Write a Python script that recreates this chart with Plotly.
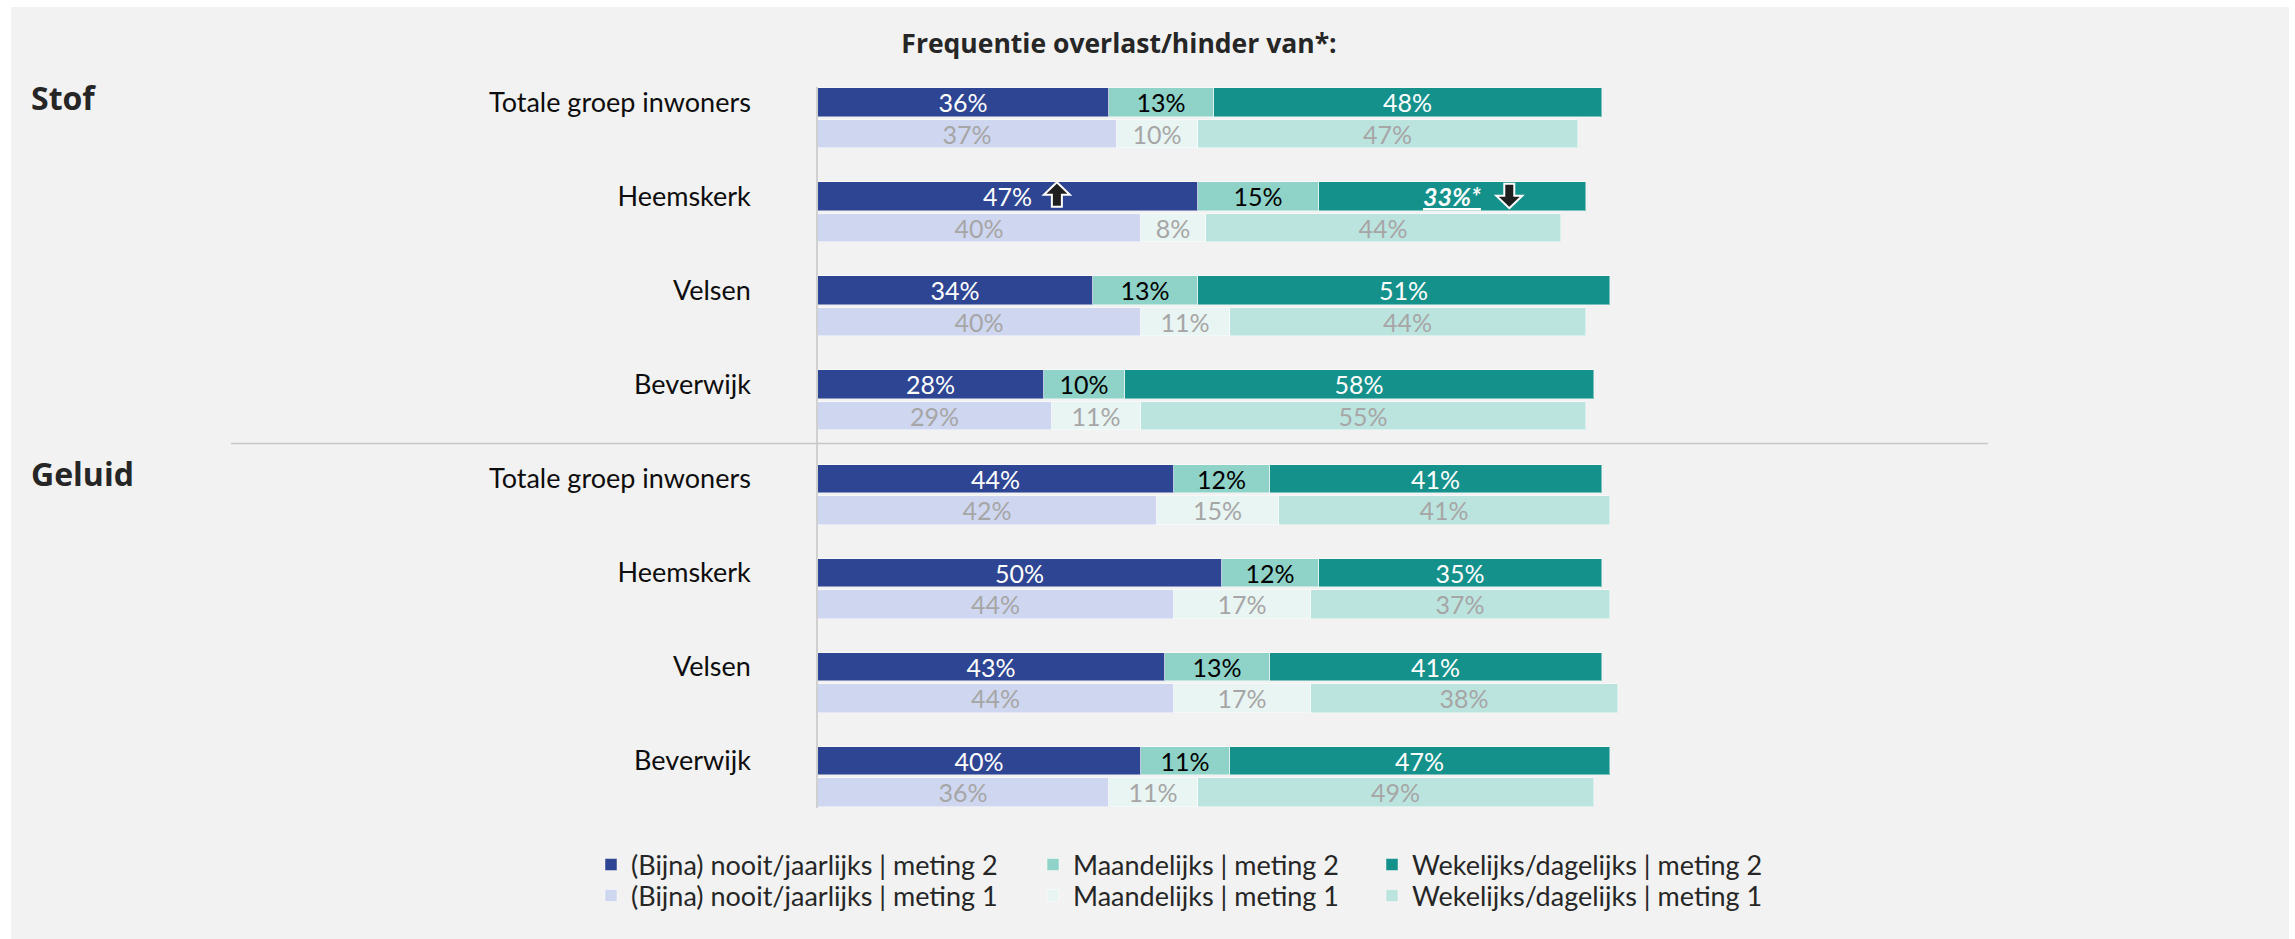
import plotly.graph_objects as go

# ---------------- data ----------------
sections = ["Stof", "Geluid"]
groups = ["Totale groep inwoners", "Heemskerk", "Velsen", "Beverwijk"]
categories = ["(Bijna) nooit/jaarlijks", "Maandelijks", "Wekelijks/dagelijks"]

# values per group: [nooit/jaarlijks, maandelijks, wekelijks/dagelijks]
stof_meting2 = [[36, 13, 48], [47, 15, 33], [34, 13, 51], [28, 10, 58]]
stof_meting1 = [[37, 10, 47], [40, 8, 44], [40, 11, 44], [29, 11, 55]]
geluid_meting2 = [[44, 12, 41], [50, 12, 35], [43, 13, 41], [40, 11, 47]]
geluid_meting1 = [[42, 15, 41], [44, 17, 37], [44, 17, 38], [36, 11, 49]]

# significant changes vs meting 1: (section, group, category index, direction)
significance = [("Stof", "Heemskerk", 0, "up"), ("Stof", "Heemskerk", 2, "down")]
# labels shown emphasised (bold/italic/underlined with asterisk)
emphasised = [("Stof", "Heemskerk", 2)]

title_text = "Frequentie overlast/hinder van*:"

# ---------------- styling ----------------
W, H = 2295, 939
X0_PX, X100_PX = 818, 1626
TOP_PX, BOT_PX = 87, 808
ml, mr, mt, mb = X0_PX, W - X100_PX, TOP_PX, H - BOT_PX
pw, ph = X100_PX - X0_PX, BOT_PX - TOP_PX


def px_x(px):
    return (px - X0_PX) / pw


def px_y(py):
    return (BOT_PX - py) / ph


colors_m2 = ["#2E4593", "#8FD3C8", "#15918C"]
colors_m1 = ["#CFD6EF", "#E9F5F3", "#BCE4DF"]
text_m2 = ["#FFFFFF", "#000000", "#FFFFFF"]
text_m1 = ["#A6A6A6", "#A6A6A6", "#A6A6A6"]
LABEL_FONT = "Lato, 'Open Sans', sans-serif"
BOLD_FONT = "'Open Sans', Lato, sans-serif"

meting2 = {"Stof": stof_meting2, "Geluid": geluid_meting2}
meting1 = {"Stof": stof_meting1, "Geluid": geluid_meting1}

# y positions: per group, meting 2 on top, meting 1 just below
keys, y_m2, y_m1 = [], [], []
for si, s in enumerate(sections):
    for gi, g in enumerate(groups):
        k = si * len(groups) + gi
        keys.append((s, g))
        y_m2.append(3 * k)
        y_m1.append(3 * k + 1)

fig = go.Figure()
# one legend box per legend entry: row 1 = meting 2, row 2 = meting 1
legend_ids = {2: ["legend", "legend2", "legend3"], 1: ["legend4", "legend5", "legend6"]}
legend_row_y = {2: 865, 1: 896}
legend_col_x = [591, 1033, 1372]

for meting, data, ys, cols, tcols in [
    (2, meting2, y_m2, colors_m2, text_m2),
    (1, meting1, y_m1, colors_m1, text_m1),
]:
    for ci, cat in enumerate(categories):
        xs, texts = [], []
        for (s, g) in keys:
            v = data[s][groups.index(g)][ci]
            xs.append(v)
            if meting == 2 and (s, g, ci) in emphasised:
                texts.append(f"<u><b><i>{v}%*</i></b></u>")
            else:
                texts.append(f"{v}%")
        fig.add_trace(go.Bar(
            orientation="h", x=xs, y=ys, width=0.915,
            name=f"{cat} | meting {meting}",
            marker=dict(color=cols[ci], line=dict(color="rgba(255,255,255,0.45)", width=1)),
            text=texts, textposition="inside", insidetextanchor="middle",
            textangle=0, constraintext="none",
            insidetextfont=dict(family=LABEL_FONT, size=25, color=tcols[ci]),
            legend=legend_ids[meting][ci], hoverinfo="skip",
        ))

annotations = []
# section headings
for si, s in enumerate(sections):
    annotations.append(dict(
        x=px_x(29), xref="paper", xanchor="left",
        y=y_m2[si * len(groups)], yref="y", yanchor="middle", yshift=5,
        text=f"<b>{s}</b>", showarrow=False,
        font=dict(family=BOLD_FONT, size=32, color="#262626"),
    ))

shapes = [
    # grey panel
    dict(type="rect", xref="paper", yref="paper", layer="below",
         x0=px_x(11), x1=px_x(2289), y0=px_y(940), y1=px_y(7),
         fillcolor="#F2F2F2", line=dict(width=0)),
    # separator between sections
    dict(type="line", xref="paper", yref="paper",
         x0=px_x(231), x1=px_x(1988), y0=px_y(443.5), y1=px_y(443.5),
         line=dict(color="#C8C8C8", width=1.5)),
]


def arrow_path(dx, dy, up=True):
    """Block-arrow icon outline in pixels, offset (dx, dy) from its anchor."""
    s = 1 if up else -1
    pts = [(0, 12.5), (13, 0), (5, 0), (5, -12), (-5, -12), (-5, 0), (-13, 0)]
    return "M" + " L".join(f"{dx + x},{dy + s * y}" for x, y in pts) + " Z"


# significance arrows, anchored to the centre of the relevant segment
for (s, g, ci, d) in significance:
    k = keys.index((s, g))
    row = meting2[s][groups.index(g)]
    centre = sum(row[:ci]) + row[ci] / 2
    shapes.append(dict(
        type="path", xref="x", yref="y", xsizemode="pixel", ysizemode="pixel",
        xanchor=centre, yanchor=y_m2[k],
        path=arrow_path(49 if d == "up" else 57, 2 if d == "up" else 1, d == "up"),
        fillcolor="#1F1F1F", line=dict(color="#FFFFFF", width=2), layer="above",
    ))

legend_layouts = {}
for meting in (2, 1):
    for ci in range(len(categories)):
        legend_layouts[legend_ids[meting][ci]] = dict(
            orientation="v", xanchor="left", yanchor="middle",
            x=px_x(legend_col_x[ci]), y=px_y(legend_row_y[meting]),
            bgcolor="rgba(0,0,0,0)",
            font=dict(family=LABEL_FONT, size=27, color="#262626"),
            itemclick=False, itemdoubleclick=False,
        )

fig.update_layout(
    width=W, height=H, autosize=False,
    margin=dict(l=ml, r=mr, t=mt, b=mb, pad=0),
    paper_bgcolor="#FFFFFF", plot_bgcolor="rgba(0,0,0,0)",
    barmode="stack", bargap=0,
    title=dict(text=f"<b>{title_text}</b>", x=1119 / W, xanchor="center",
               y=1 - 44 / H, yanchor="middle",
               font=dict(family=BOLD_FONT, size=26.5, color="#262626")),
    xaxis=dict(range=[0, 100], visible=False, fixedrange=True),
    yaxis=dict(range=[22.5, -0.5], tickmode="array", tickvals=y_m2,
               ticktext=[g for (s, g) in keys], showline=True, linecolor="#D0D0D0",
               linewidth=1.5, showgrid=False, zeroline=False, ticks="",
               ticklabelstandoff=60, fixedrange=True,
               tickfont=dict(family=LABEL_FONT, size=27, color="#0D0D0D")),
    annotations=annotations, shapes=shapes,
    showlegend=True,
    **legend_layouts,
)

fig.write_html("out.html", config={"displayModeBar": False},
               post_script="document.body.style.margin='0';document.body.style.overflow='hidden';")
